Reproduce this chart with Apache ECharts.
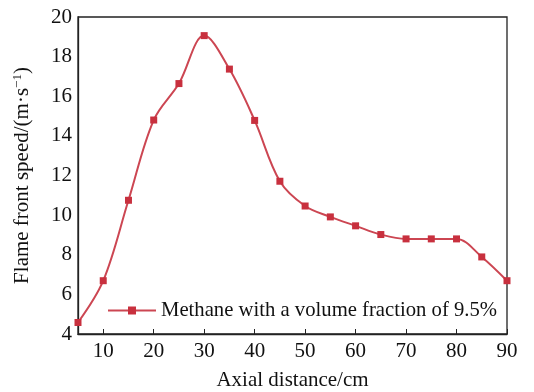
<!DOCTYPE html>
<html><head><meta charset="utf-8">
<script src="https://cdn.jsdelivr.net/npm/echarts@6/dist/echarts.min.js"></script>
<style>html,body{margin:0;padding:0;background:#fff}#c{width:534px;height:392px}</style>
</head><body><div id="c"></div>
<script>
const distances = [5,10,15,20,25,30,35,40,45,50,55,60,65,70,75,80,85,90];
const speeds = [4.58,6.69,10.75,14.8,16.64,19.06,17.37,14.78,11.71,10.46,9.91,9.46,9.02,8.8,8.8,8.8,7.89,6.69];
const xTicks = [10,20,30,40,50,60,70,80,90];
const seriesName = 'Methane with a volume fraction of 9.5%';

const chart = echarts.init(document.getElementById('c'));
const font = 'Liberation Serif, Times New Roman, serif';
chart.setOption({
  animation:false,
  grid:{left:78,right:27,top:17,bottom:58,show:true,borderColor:'#222',borderWidth:1.3,outerBoundsMode:'none',containLabel:false},
  legend:{
    left:102, top:295, itemWidth:48, itemHeight:10, itemGap:5,
    textStyle:{fontFamily:font,fontSize:20.7,color:'#111'},
    data:[{name:seriesName}]
  },
  xAxis:{
    type:'value', min:5, max:90,
    axisLine:{lineStyle:{color:'#222',width:1.3}},
    axisTick:{inside:true,length:5,customValues:xTicks,lineStyle:{color:'#222'}},
    axisLabel:{customValues:xTicks,fontFamily:font,fontSize:21,color:'#111',margin:7},
    splitLine:{show:false},
    name:'Axial distance/cm', nameLocation:'middle', nameGap:36,
    nameTextStyle:{fontFamily:font,fontSize:21,color:'#111'}
  },
  yAxis:{
    type:'value', min:4, max:20, interval:2,
    axisLine:{show:true,lineStyle:{color:'#222',width:1.3}},
    axisTick:{show:false},
    axisLabel:{fontFamily:font,fontSize:21,color:'#111',margin:6},
    splitLine:{show:false},
    name:'{a|Flame front speed/(m·s}{s|−1}{a|)}', nameLocation:'middle', nameGap:45,
    nameTextStyle:{fontFamily:font,fontSize:21,color:'#111',
      rich:{a:{fontFamily:font,fontSize:21,color:'#111'},
            s:{fontFamily:font,fontSize:13,color:'#111',verticalAlign:'top',padding:[0,0,9,0]}}}
  },
  series:[{
    name:seriesName, type:'line', smooth:0.35,
    data: distances.map((d,i)=>[d,speeds[i]]),
    symbol:'rect', symbolSize:7,
    lineStyle:{color:'#cc4652',width:2},
    itemStyle:{color:'#c8303e'}
  }]
});
</script></body></html>
